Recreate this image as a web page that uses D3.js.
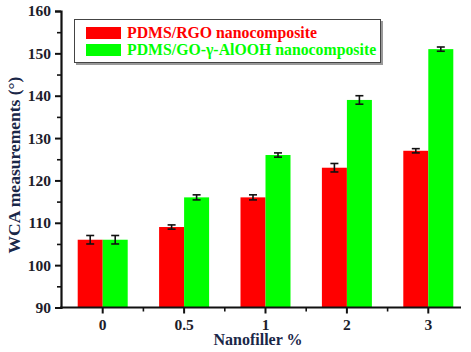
<!DOCTYPE html>
<html lang="en">
<head>
  <meta charset="UTF-8">
  <title>WCA measurements</title>
  <script src="https://d3js.org/d3.v7.min.js"></script>
  <style>
    body { margin: 0; background: #fff; }
    text { font-family: "Liberation Serif", "Times New Roman", serif; font-weight: bold; }
  </style>
</head>
<body>
  <svg width="471" height="352"></svg>

  <script>
    // Data
    const categories = ["0", "0.5", "1", "2", "3"];
    const seriesNames = ["PDMS/RGO nanocomposite", "PDMS/GO-\u03B3-AlOOH nanocomposite"];
    const rgoValues = [106, 109, 116, 123, 127];
    const rgoErrors = [1, 0.5, 0.6, 1, 0.5];
    const alooValues = [106, 116, 126, 139, 151];
    const alooErrors = [1, 0.6, 0.5, 1, 0.5];
    const yTicks = [90, 100, 110, 120, 130, 140, 150, 160];
    const colors = ["#ff0000", "#00ff00"];

    const svg = d3.select("svg");
    const ink = "#1d1d2b";

    const x = d3.scaleBand()
      .domain(categories)
      .range([62, 469]);

    const sub = d3.scaleBand()
      .domain([0, 1])
      .range([-25, 25]);

    const y = d3.scaleLinear()
      .domain([90, 160])
      .range([307.5, 11]);

    const series = [
      { name: seriesNames[0], values: rgoValues, errors: rgoErrors, color: colors[0] },
      { name: seriesNames[1], values: alooValues, errors: alooErrors, color: colors[1] }
    ];

    // Bars
    series.forEach((s, si) => {
      svg.append("g").selectAll("rect")
        .data(categories)
        .join("rect")
        .attr("x", (c) => x(c) + x.bandwidth() / 2 + sub(si))
        .attr("y", (c, i) => y(s.values[i]))
        .attr("width", sub.bandwidth())
        .attr("height", (c, i) => y(90) - y(s.values[i]))
        .attr("fill", s.color);
    });

    // Error bars
    series.forEach((s, si) => {
      const g = svg.append("g").attr("stroke", "#111").attr("stroke-width", 1.6);
      categories.forEach((c, i) => {
        const cx = x(c) + x.bandwidth() / 2 + sub(si) + sub.bandwidth() / 2;
        const lo = y(s.values[i] - s.errors[i]);
        const hi = y(s.values[i] + s.errors[i]);
        g.append("line").attr("x1", cx).attr("x2", cx).attr("y1", lo).attr("y2", hi);
        g.append("line").attr("x1", cx - 4).attr("x2", cx + 4).attr("y1", lo).attr("y2", lo);
        g.append("line").attr("x1", cx - 4).attr("x2", cx + 4).attr("y1", hi).attr("y2", hi);
      });
    });

    // Y axis
    const yAxis = svg.append("g")
      .attr("transform", "translate(61,0)")
      .call(d3.axisLeft(y).tickValues(yTicks).tickSize(6).tickPadding(4));
    yAxis.select(".domain").attr("stroke", "#111").attr("stroke-width", 2.2);
    yAxis.selectAll(".tick line").attr("stroke", "#111").attr("stroke-width", 2);
    yAxis.selectAll(".tick text")
      .attr("fill", ink)
      .style("font-size", "15.5px");
    svg.append("g")
      .attr("transform", "translate(61,0)")
      .call(d3.axisLeft(y).tickValues(d3.range(95, 160, 10)).tickSize(4).tickFormat(""))
      .call((g) => g.select(".domain").remove())
      .selectAll("line").attr("stroke", "#111").attr("stroke-width", 1.6);

    // X axis
    const xAxis = svg.append("g")
      .attr("transform", "translate(0,307.5)")
      .call(d3.axisBottom(x).tickSize(6).tickPadding(5).tickSizeOuter(0));
    xAxis.select(".domain").attr("stroke", "#111").attr("stroke-width", 2.2)
      .attr("d", "M60,0H461");
    xAxis.selectAll(".tick line").attr("stroke", "#111").attr("stroke-width", 2);
    xAxis.selectAll(".tick text")
      .attr("fill", ink)
      .style("font-size", "15.5px");
    // minor ticks between categories
    svg.append("g").selectAll("line")
      .data(categories.slice(1))
      .join("line")
      .attr("x1", (c) => x(c))
      .attr("x2", (c) => x(c))
      .attr("y1", 307.5)
      .attr("y2", 311.5)
      .attr("stroke", "#111")
      .attr("stroke-width", 1.6);

    // Axis titles
    svg.append("text")
      .attr("transform", "translate(20,165) rotate(-90)")
      .attr("text-anchor", "middle")
      .attr("fill", "#1a2748")
      .style("font-size", "17.5px")
      .text("WCA measurements (\u00B0)");

    svg.append("text")
      .attr("x", 258)
      .attr("y", 345)
      .attr("text-anchor", "middle")
      .attr("fill", "#1a2748")
      .style("font-size", "16px")
      .text("Nanofiller %");

    // Legend
    const legend = svg.append("g");
    legend.append("rect")
      .attr("x", 76).attr("y", 21).attr("width", 307).attr("height", 44)
      .attr("fill", "#999");
    legend.append("rect")
      .attr("x", 74.5).attr("y", 19.5).attr("width", 306).attr("height", 43)
      .attr("fill", "#fff").attr("stroke", "#444").attr("stroke-width", 1);
    series.forEach((s, si) => {
      legend.append("rect")
        .attr("x", 86).attr("y", 27 + si * 17).attr("width", 35).attr("height", 12)
        .attr("fill", s.color);
      legend.append("text")
        .attr("x", 127).attr("y", 38 + si * 17)
        .attr("fill", s.color)
        .style("font-size", "15.8px")
        .text(s.name);
    });
  </script>
</body>
</html>
